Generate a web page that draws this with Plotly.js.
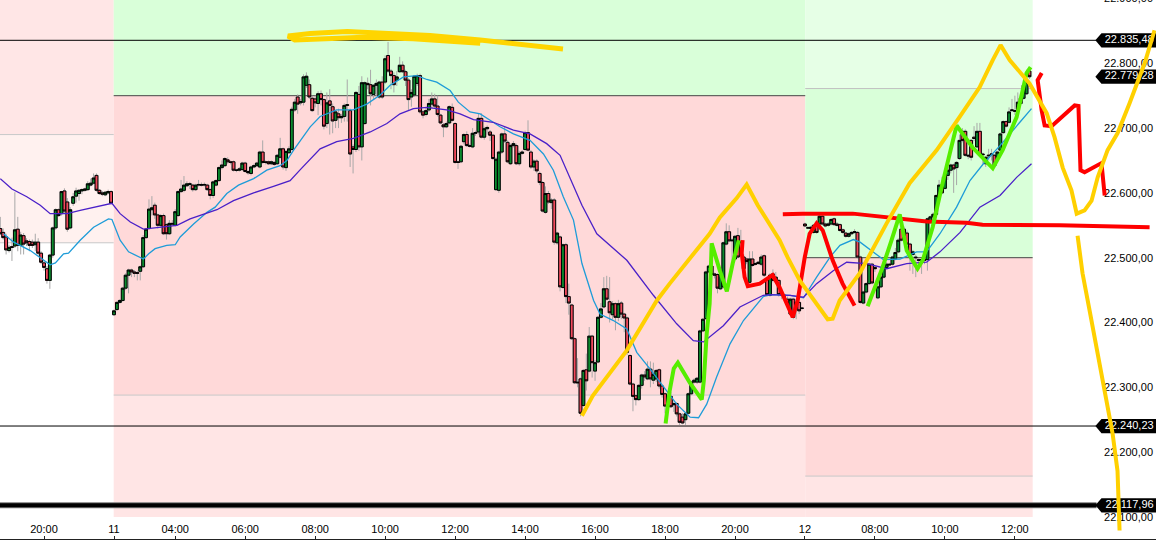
<!DOCTYPE html>
<html><head><meta charset="utf-8">
<script src="https://cdn.plot.ly/plotly-3.0.1.min.js"></script>
<style>html,body{margin:0;padding:0;background:#fff;overflow:hidden;width:1156px;height:540px}#c{position:absolute;left:0;top:-10px}</style>
</head><body><div id="c"></div>
<script>
const barOpen=[22545,22539,22532,22511,22517,22518,22544,22519,22534,22526,22525,22524,22520,22524,22507,22492,22483,22465,22504,22546,22574,22568,22603,22586,22546,22584,22595,22599,22603,22604,22605,22612,22615,22627,22604,22600,22597,22600,22602,
22412,22420,22431,22434,22453,22473,22481,22478,22477,22479,22486,22531,22545,22574,22581,22566,22550,22565,22551,22537,22553,22550,22565,22602,22604,22611,22613,22612,22605,22612,22613,22612,22612,22605,22596,22612,22619,22639,22642,22651,22648,22648,22635,22635,22636,22646,22633,22630,22640,22642,22640,22663,22648,22648,22645,22647,22645,22655,22668,22639,22662,22667,
22728,22748,22739,22740,22766,22767,22746,22745,22738,22753,22744,22707,22742,22733,22712,22722,22716,22718,22735,22727,22671,22667,22752,22671,22707,22769,22767,22752,22766,22748,22771,22771,22812,22788,22781,22774,22787,22797,22787,22774,22748,22751,22769,22781,22725,22721,22728,22737,22745,22734,22720,22705,22702,22708,22732,22707,22648,22648,22679,22690,22673,22671,22692,22694,22715,22686,22699,22694,22689,22605,22604,22663,22691,22678,22645,22673,22673,22645,22661,22667,22693,22663,22640,22649,22630,22616,22570,22599,22585,22589,
22523,22532,22454,22520,22440,22427,22375,22308,22313,22272,22327,22325,22379,22325,22339,22408,22424,22452,22432,22412,22429,22408,22430,22413,22407,22349,22305,22287,22281,22303,22319,22313,22328,22311,22313,22327,22302,22290,22271,22286,22275,22275,22259,22254,22250,22260,22290,22308,22308,22308,22387,22406,22478,22487,22475,22474,22452,22455,22521,22540,22526,22498,22534,22525,22501,22498,22462,22498,22491,22491,
22490,22503,22467,22442,22475,22465,22465,22443,22442,22436,22413,22436,22431,22431,22422,
22552,22546,22545,22539,22552,22552,22564,22552,22550,22552,22560,22552,22551,22543,22538,22533,22537,22539,22539,22501,22430,22447,22460,22490,22485,22438,22455,22470,22485,22490,22490,22498,22509,22544,22544,22538,22521,22505,22501,22497,22496,22497,22497,22555,22563,22567,22596,22612,22607,22627,22635,22643,22639,22653,22695,22695,22658,22681,22686,22671,22695,22660,22645,22657,22659,22658,22655,22666,22693,22710,22709,22727,22727,22729,22738,22746,22753,22788];
const barHigh=[22563,22545,22537,22520,22531,22601,22563,22540,22538,22530,22528,22528,22537,22530,22510,22495,22487,22506,22548,22576,22576,22603,22607,22592,22578,22600,22608,22606,22607,22608,22618,22622,22630,22630,22606,22603,22603,22605,22604,
22420,22433,22436,22455,22476,22483,22483,22481,22480,22488,22535,22546,22590,22595,22585,22568,22567,22568,22553,22558,22558,22575,22604,22620,22626,22618,22617,22614,22614,22620,22616,22616,22614,22607,22619,22621,22641,22650,22655,22655,22650,22650,22637,22640,22648,22648,22635,22642,22645,22648,22665,22681,22650,22650,22650,22649,22660,22685,22670,22666,22672,22733,
22745,22752,22745,22783,22786,22775,22750,22750,22757,22758,22746,22755,22760,22738,22728,22730,22722,22738,22775,22730,22675,22757,22765,22780,22772,22778,22790,22768,22775,22773,22780,22812,22833,22791,22786,22788,22810,22803,22790,22777,22760,22782,22784,22784,22728,22732,22745,22755,22753,22750,22722,22708,22710,22735,22738,22709,22650,22674,22692,22695,22676,22700,22696,22722,22723,22702,22704,22697,22691,22655,22665,22693,22703,22681,22676,22680,22676,22665,22666,22696,22712,22666,22652,22652,22633,22618,22610,22603,22592,22592,
22540,22534,22522,22523,22460,22429,22377,22345,22315,22328,22352,22393,22381,22342,22410,22430,22470,22472,22470,22433,22431,22435,22433,22415,22409,22351,22307,22289,22305,22321,22325,22340,22340,22338,22328,22329,22304,22292,22287,22293,22278,22277,22261,22260,22262,22292,22310,22314,22316,22389,22407,22480,22489,22489,22477,22476,22476,22525,22553,22550,22530,22535,22546,22543,22505,22500,22510,22510,22493,22495,
22505,22505,22470,22476,22482,22478,22467,22445,22444,22440,22438,22438,22433,22433,22424,
22554,22549,22549,22552,22555,22566,22566,22554,22555,22561,22562,22555,22553,22545,22540,22539,22541,22544,22541,22503,22449,22462,22492,22492,22487,22457,22472,22487,22493,22492,22503,22515,22530,22550,22548,22542,22523,22512,22505,22499,22499,22499,22562,22565,22570,22598,22620,22625,22635,22640,22645,22645,22649,22690,22700,22698,22660,22683,22703,22708,22708,22662,22657,22668,22668,22660,22665,22693,22712,22712,22732,22745,22750,22755,22752,22768,22790,22790];
const barLow=[22535,22528,22505,22508,22495,22515,22510,22505,22505,22518,22510,22515,22510,22503,22490,22480,22460,22452,22500,22543,22563,22565,22568,22540,22544,22580,22585,22588,22598,22602,22603,22610,22613,22602,22597,22595,22595,22598,22582,
22410,22418,22429,22432,22450,22445,22470,22470,22465,22465,22484,22529,22543,22565,22560,22545,22548,22535,22528,22535,22549,22548,22563,22600,22601,22609,22606,22602,22603,22610,22610,22610,22603,22590,22592,22610,22617,22636,22640,22645,22644,22633,22632,22633,22634,22631,22628,22627,22638,22640,22638,22645,22644,22643,22643,22642,22643,22653,22636,22634,22660,22665,
22725,22722,22735,22735,22762,22745,22725,22732,22720,22735,22698,22700,22690,22692,22700,22700,22708,22710,22710,22640,22630,22663,22665,22650,22705,22760,22735,22745,22750,22745,22745,22768,22785,22760,22755,22765,22785,22785,22765,22728,22733,22748,22765,22722,22715,22718,22725,22730,22730,22718,22706,22686,22700,22706,22710,22645,22637,22646,22675,22671,22670,22669,22688,22690,22684,22682,22690,22680,22651,22603,22600,22660,22677,22646,22643,22670,22643,22642,22659,22664,22664,22637,22634,22630,22612,22570,22568,22583,22575,22520,
22520,22448,22452,22430,22412,22373,22305,22300,22255,22270,22295,22323,22315,22310,22337,22406,22422,22434,22400,22405,22388,22402,22405,22385,22350,22303,22263,22272,22279,22298,22310,22311,22300,22305,22308,22298,22284,22260,22268,22268,22262,22255,22242,22243,22242,22258,22288,22306,22305,22306,22385,22404,22476,22472,22468,22445,22450,22453,22519,22524,22495,22496,22499,22515,22480,22490,22459,22486,22488,22489,
22487,22470,22440,22440,22462,22460,22440,22436,22435,22425,22410,22405,22405,22413,22420,
22547,22544,22543,22537,22537,22550,22550,22547,22548,22550,22549,22548,22540,22537,22531,22531,22535,22537,22499,22429,22428,22445,22458,22459,22478,22436,22453,22468,22483,22487,22488,22496,22507,22525,22530,22519,22480,22475,22470,22490,22475,22490,22480,22553,22561,22565,22594,22598,22605,22620,22630,22600,22612,22651,22678,22656,22652,22650,22680,22669,22656,22645,22640,22650,22650,22640,22653,22664,22691,22701,22707,22725,22720,22727,22736,22744,22751,22776];
const barClose=[22537,22531,22512,22516,22516,22543,22519,22535,22521,22523,22519,22519,22524,22507,22493,22485,22465,22504,22546,22574,22565,22602,22572,22544,22574,22594,22603,22604,22605,22606,22614,22615,22623,22604,22599,22598,22601,22602,22584,
22418,22431,22434,22453,22473,22481,22478,22476,22476,22486,22531,22544,22575,22577,22566,22550,22565,22537,22537,22553,22552,22571,22602,22606,22612,22614,22614,22605,22612,22613,22612,22613,22605,22596,22617,22619,22639,22643,22653,22648,22647,22635,22635,22637,22646,22633,22631,22640,22642,22646,22663,22647,22647,22645,22648,22644,22658,22668,22640,22664,22668,22729,
22740,22737,22741,22779,22780,22748,22727,22739,22753,22744,22703,22739,22735,22711,22725,22716,22718,22735,22736,22660,22667,22755,22671,22770,22770,22767,22753,22766,22769,22771,22748,22807,22788,22781,22767,22779,22797,22787,22774,22744,22755,22780,22781,22725,22720,22727,22738,22745,22734,22721,22708,22702,22707,22733,22712,22647,22647,22672,22690,22673,22672,22692,22693,22715,22686,22699,22701,22689,22653,22652,22663,22691,22680,22648,22673,22676,22645,22661,22663,22693,22666,22640,22649,22634,22616,22572,22599,22586,22589,22524,
22538,22455,22520,22440,22430,22375,22307,22307,22260,22326,22310,22379,22338,22338,22408,22421,22452,22436,22415,22429,22408,22429,22413,22407,22354,22305,22286,22281,22303,22319,22316,22328,22313,22320,22326,22302,22289,22271,22285,22270,22273,22259,22246,22245,22259,22290,22308,22311,22314,22387,22405,22478,22487,22474,22473,22453,22474,22523,22540,22526,22527,22533,22501,22523,22483,22494,22498,22488,22490,22493,
22501,22473,22443,22473,22465,22470,22443,22442,22441,22429,22436,22408,22428,22418,22422,
22549,22546,22547,22550,22539,22564,22552,22549,22552,22559,22551,22550,22542,22539,22533,22537,22539,22540,22501,22431,22447,22460,22490,22461,22483,22455,22470,22485,22490,22489,22501,22508,22527,22527,22534,22521,22501,22509,22500,22496,22497,22496,22560,22563,22567,22596,22612,22600,22627,22635,22643,22637,22647,22681,22681,22658,22657,22655,22684,22695,22658,22659,22655,22658,22660,22642,22663,22691,22710,22703,22725,22728,22726,22740,22746,22766,22771,22779.28];

const fastMaX=[1.1,4.6,10.3,14.9,17.1,18.9,21.7,23.4,27.4,32,35.4,37.1,38.3,39.4,41.1,44,47.4,49.1,50.9,53.1,57.1,60,61.7,66.3,70.9,73.7,77.7,81.7,86.9,91.4,96,98.3,100.6,102.9,106.3,109.7,115.4,121.1,125.7,130.3,133.7,138.3,142.9,146.3,149.7,154.3,157.1,161.1,164.6,168,171.4,176,181.7,186.3,189.7,193.1,196.6,199.5,203.5,205.7,210.3,214.9,218.3,222.9,227.5,232,236.6,239.5,242.3,245.7,250.3,254.9,261.7,264,270.9,275.5,280,284.6,288,292.6,294.9,299.5,302.9,308.6,314.3,317.7,322.3,328,332.6,337.2,342.9,349.7,353.7];
const fastMaY=[22537,22524,22511,22496,22489,22492,22506,22507,22527,22547,22556,22560,22559,22547,22527,22509,22501,22498,22506,22514,22519,22520,22532,22552,22570,22578,22599,22612,22622,22635,22642,22650,22666,22681,22702,22718,22728,22728,22737,22751,22766,22779,22781,22775,22771,22758,22740,22725,22722,22712,22702,22691,22681,22660,22635,22594,22558,22491,22434,22413,22403,22390,22354,22328,22300,22274,22254,22253,22274,22316,22367,22403,22440,22443,22442,22438,22470,22501,22519,22528,22524,22509,22497,22498,22509,22509,22537,22578,22619,22645,22673,22709,22730];
const slowMaX=[0,4,9.1,13.7,17.1,19.4,22.9,27.4,33.1,38.3,41.1,44.6,49.1,52.6,57.1,60.6,65.1,70.9,74.3,80,86.9,93.7,99.4,102.9,109.7,115.4,121.1,126.9,132.6,137.1,141.7,146.3,153.1,157.7,162.3,169.1,176,181.7,187.4,192,195.4,199.5,204.6,214.9,224,232,237.7,241.2,248,253.7,261.7,264,270.9,275.5,280,285.7,290.3,297.2,304,310.9,317.7,322.3,329.2,336,342.9,348.6,353.7];
const slowMaY=[22622,22606,22594,22581,22568,22568,22568,22573,22579,22584,22568,22555,22544,22546,22548,22550,22560,22569,22574,22588,22600,22610,22619,22636,22668,22679,22684,22694,22707,22722,22730,22732,22728,22722,22713,22709,22697,22691,22676,22658,22624,22581,22537,22496,22442,22398,22372,22370,22395,22424,22442,22443,22442,22439,22460,22480,22493,22491,22483,22491,22493,22509,22539,22578,22596,22624,22645];

const yellowTopX=[193,181.7,164.6,147.4,130.3,119,106.3,98.7,101,109.7,124.5,141.6,164.6];
const yellowTopY=[22822,22828,22836,22843,22847,22849,22846,22842,22836,22838,22840,22838,22831];
const yellowMainX=[199.5,203.2,214.9,225.2,229.6,243.3,246.8,252.6,256,259.8,267.3,270.1,274.2,280,283.8,285.5,287.9,294.8,304,311.9,321.2,329,335.9,340.4,343.1,346.2,353,358.9,361.6,364.4,367.4,369.2,371.9,374.3,376.4,379.8,383.2,387.3,392.5,395.9];
const yellowMainY=[22256,22287,22357,22434,22460,22537,22562,22592,22613,22581,22527,22500,22465,22429,22405,22406,22434,22476,22553,22615,22666,22717,22763,22805,22828,22805,22769,22723,22686,22639,22604,22568,22573,22588,22624,22666,22692,22738,22800,22851];
const yellowDownX=[369.5,371.2,373.6,376,379.4,381.5,383.2,383.9];
const yellowDownY=[22534,22476,22419,22361,22284,22229,22171,22079];
const redLongX=[268.4,275.2,292.4,306.1,317.7,331.4,336.9,363.3,377,394.2];
const redLongY=[22567,22568,22568,22562,22556,22554,22551,22550,22548,22547];
const redMidX=[254.6,254.3,255.3,256.4,260.5,264.9,267.3,270.1,271.8,273.5,275.9,277.6,280,282.1,285.5,288.9,293];
const redMidY=[22527,22507,22470,22456,22460,22473,22454,22423,22408,22434,22500,22537,22553,22542,22496,22460,22426];
const redRightX=[357.2,355.8,357.2,358.2,360.6,365,368.5,369.8,370.5,371.9,377.7,378.8];
const redRightY=[22785,22774,22727,22704,22703,22720,22735,22734,22635,22632,22646,22596];
const greenLeftX=[228.2,229.6,231,232.4,236.5,240.6,241.3,242.3,243.3,244,246.8,249.2,251.2,253.3];
const greenLeftY=[22244,22295,22329,22338,22307,22281,22310,22383,22429,22522,22480,22448,22491,22527];
const greenRightX=[297.5,302.6,305.7,308.5,310.9,314.6,316.4,319.8,323.2,328,333.5,340.4,343.8,348.6,352,353.4];
const greenRightY=[22425,22485,22527,22567,22511,22483,22496,22547,22615,22704,22670,22638,22666,22717,22785,22794];

const priceTickVals=[22900,22800,22700,22600,22500,22400,22300,22200,22100];
const priceTickText=['22.900,00','22.800,00','22.700,00','22.600,00','22.500,00','22.400,00','22.300,00','22.200,00','22.100,00'];
const timeTickVals=[15,39,60,84,108,132,156,180,204,228,252,276,300,324,348];
const timeTickText=['20:00','11','04:00','06:00','08:00','10:00','12:00','14:00','16:00','18:00','20:00','12','08:00','10:00','12:00'];
const tagPrices=[22835.48,22779.28,22240.23,22117.96];
const tagTexts=['22.835,48','22.779,28','22.240,23','22.117,96'];

const barIndex=barOpen.map((_,i)=>i);
const UP='#0B8A2E', DOWN='#F2495C';
const s2=38.9,s3=276.1,s4=354.1,xEnd=396.4,yTop=22913.1,yBot=22065.9;
const rect=(x0,x1,y0,y1,c)=>({type:'rect',layer:'below',xref:'x',yref:'y',x0,x1,y0,y1,fillcolor:c,line:{width:0}});
const hl=(x0,x1,y,c,w)=>({type:'line',layer:'below',xref:'x',yref:'y',x0,x1,y0:y,y1:y,line:{color:c,width:w}});
const shapes=[
 rect(-1,s2,22690,yTop,'#FFE6E6'),
 rect(-1,s2,22523,22690,'#FFF1EF'),
 rect(s2,s3,22750,yTop,'#D9FFD9'),
 rect(s2,s3,22288,22750,'#FFD9D9'),
 rect(s2,s3,22100,22288,'#FFE5E5'),
 rect(s3,s4,22761,yTop,'#E6FFE6'),
 rect(s3,s4,22500,22761,'#D9FFD9'),
 rect(s3,s4,22163,22500,'#FFD9D9'),
 rect(s3,s4,22100,22163,'#FFE5E5'),
 hl(-1,s2,22690,'#C8C8C8',1),hl(-1,s2,22523,'#C8C8C8',1),
 hl(s2,s3,22750,'#444444',1),hl(s2,s3,22288,'#C8C8C8',1),
 hl(s3,s4,22761,'#C0C0C0',1),hl(s3,s4,22500,'#444444',1),hl(s3,s4,22163,'#C8C8C8',1),
 hl(-1,376,22835.48,'#000000',1),hl(-1,376,22240.23,'#000000',1),
 hl(-1,376,22117.96,'#777777',6),hl(-1,376,22117.96,'#000000',4)
];
const stroke=(x,y,color,w)=>({type:'scatter',mode:'lines',x,y,line:{color,width:w===undefined?4:w,shape:'linear'},hoverinfo:'skip',showlegend:false});
const tagX=[375.6,377.7,397,397,377.7];
const tagTraces=tagPrices.map(p=>({type:'scatter',mode:'lines',x:tagX.concat(tagX[0]),y:[p,p+11,p+11,p-11,p-11,p],fill:'toself',fillcolor:'#000',line:{width:0,color:'#000'},hoverinfo:'skip',showlegend:false}));
const candle=(h,l,line)=>({type:'candlestick',x:barIndex,open:barOpen,close:barClose,high:h,low:l,whiskerwidth:0,
  increasing:{line:{color:line,width:1},fillcolor:UP},decreasing:{line:{color:line,width:1},fillcolor:DOWN},hoverinfo:'skip',showlegend:false});
const traces=[
 candle(barHigh,barLow,'#A8A8A8'),
 candle(barOpen.map((o,i)=>Math.max(o,barClose[i])),barOpen.map((o,i)=>Math.min(o,barClose[i])),'#000000'),
 stroke(fastMaX,fastMaY,'#1E9CD8',1.3),
 stroke(slowMaX,slowMaY,'#4A20C8',1.3),
 ...tagTraces,
 {type:'scatter',mode:'text',x:tagPrices.map(()=>395.6),y:tagPrices,text:tagTexts,textposition:'middle left',textfont:{family:'Arial, "Liberation Sans", sans-serif',size:11,color:'#fff'},hoverinfo:'skip',showlegend:false},
 stroke(redLongX,redLongY,'#FF0000'),
 stroke(redMidX,redMidY,'#FF0000'),
 stroke(redRightX,redRightY,'#FF0000'),
 stroke(greenLeftX,greenLeftY,'#55EE00'),
 stroke(greenRightX,greenRightY,'#55EE00'),
 stroke(yellowTopX,yellowTopY,'#FFD500',5),
 stroke(yellowMainX,yellowMainY,'#FFD000'),
 stroke(yellowDownX,yellowDownY,'#FFD000')
];
const layout={width:1156,height:550,margin:{l:0,r:0,t:0,b:1,pad:0},paper_bgcolor:'#fff',plot_bgcolor:'#fff',showlegend:false,
 boxgap:0.02,boxgroupgap:0,boxmode:'overlay',shapes,dragmode:false,
 font:{family:'Arial, "Liberation Sans", sans-serif',size:11,color:'#000'},
 xaxis:{type:'linear',range:[-0.1,xEnd],tickmode:'array',tickvals:timeTickVals,ticktext:timeTickText,ticks:'inside',ticklen:3,tickcolor:'#222',tickwidth:1,
   ticklabelposition:'inside',showgrid:false,zeroline:false,showline:true,linecolor:'#222',linewidth:1,rangeslider:{visible:false},layer:'below traces',tickfont:{size:11,color:'#000'}},
 yaxis:{type:'linear',side:'right',range:[yBot,yTop],tickmode:'array',tickvals:priceTickVals,ticktext:priceTickText,ticks:'',ticklabelposition:'inside',
   showgrid:false,zeroline:false,showline:false,layer:'below traces',tickfont:{size:11,color:'#000'}}
};
Plotly.newPlot('c',traces,layout,{displayModeBar:false,staticPlot:true});
</script></body></html>
